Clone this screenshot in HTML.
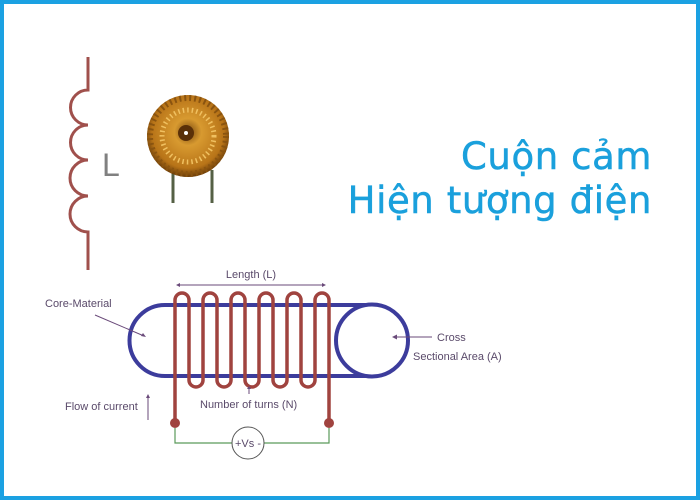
<!DOCTYPE html>
<html><head><meta charset="utf-8"><style>
html,body{margin:0;padding:0;background:#fff;}
.f{position:relative;width:700px;height:500px;box-sizing:border-box;border:4px solid #1ba1e2;overflow:hidden;}
svg{position:absolute;left:-4px;top:-4px;}
.t{position:absolute;right:44px;color:#1aa0dc;font-family:"DejaVu Sans","Liberation Sans",sans-serif;font-size:37px;text-align:right;letter-spacing:0.6px;-webkit-text-stroke:0.5px #1aa0dc;line-height:44px;}
</style></head><body><div class="f">
<svg width="700" height="500" viewBox="0 0 700 500" font-family="Liberation Sans, sans-serif">
<defs>
<radialGradient id="g" cx="50%" cy="45%" r="55%"><stop offset="0" stop-color="#7a4a10"/><stop offset="0.3" stop-color="#d89a30"/><stop offset="0.8" stop-color="#b87418"/><stop offset="1" stop-color="#6a3c08"/></radialGradient>
</defs>
<path d="M88 57 V90 A17.5 17.5 0 0 0 88 125 A17.5 17.5 0 0 0 88 160 A17.5 17.5 0 0 0 88 196 A17.5 17.5 0 0 0 88 232 V270" fill="none" stroke="#a0504c" stroke-width="3"/>
<text x="102" y="176" font-size="32" fill="#808080">L</text>
<line x1="173" y1="170" x2="173" y2="203" stroke="#556045" stroke-width="3"/>
<line x1="212" y1="170" x2="212" y2="203" stroke="#556045" stroke-width="3"/>
<circle cx="188" cy="136" r="41" fill="url(#g)"/>
<circle cx="188" cy="136" r="38" fill="none" stroke="#8a5410" stroke-width="6" stroke-dasharray="2 3"/>
<circle cx="188" cy="136" r="26" fill="none" stroke="#f0c060" stroke-width="5" stroke-dasharray="1.5 3"/>
<circle cx="186" cy="133" r="8" fill="#5a3008"/>
<circle cx="186" cy="133" r="2" fill="#fff"/>
<path d="M372 305 H165 A35.5 35.5 0 0 0 165 376 H372" fill="none" stroke="#3c3c9c" stroke-width="4"/>
<circle cx="372" cy="340.5" r="36" fill="#fff" stroke="#3c3c9c" stroke-width="4"/>
<path d="M175 422 V300 A7 7 0 0 1 189 300 V380 A7 7 0 0 0 203 380 V300 A7 7 0 0 1 217 300 V380 A7 7 0 0 0 231 380 V300 A7 7 0 0 1 245 300 V380 A7 7 0 0 0 259 380 V300 A7 7 0 0 1 273 300 V380 A7 7 0 0 0 287 380 V300 A7 7 0 0 1 301 300 V380 A7 7 0 0 0 315 380 V300 A7 7 0 0 1 329 300 V422" fill="none" stroke="#a0433f" stroke-width="3.5"/>
<circle cx="175" cy="423" r="5" fill="#a0433f"/>
<circle cx="329" cy="423" r="5" fill="#a0433f"/>
<path d="M175 428 V443 H232 M264 443 H329 V428" fill="none" stroke="#5a9a5a" stroke-width="1.2"/>
<circle cx="248" cy="443" r="16" fill="#fff" stroke="#555" stroke-width="1"/>
<text x="248" y="447" font-size="11" fill="#5a4a6a" text-anchor="middle">+Vs -</text>
<g fill="#5a4a6a" font-size="11">
<text x="251" y="278" text-anchor="middle">Length (L)</text>
<text x="45" y="307">Core-Material</text>
<text x="437" y="341">Cross</text>
<text x="413" y="360">Sectional Area (A)</text>
<text x="65" y="410">Flow of current</text>
<text x="200" y="408">Number of turns (N)</text>
</g>
<g stroke="#6a4a7a" stroke-width="1" fill="#6a4a7a">
<line x1="178" y1="285" x2="324" y2="285"/>
<path d="M176 285 l4 -2 v4z M326 285 l-4 -2 v4z" stroke="none"/>
<line x1="95" y1="315" x2="144" y2="336"/>
<path d="M146 337 l-5 -1 l2 -3z" stroke="none"/>
<line x1="395" y1="337" x2="432" y2="337"/>
<path d="M392 337 l5 -2.5 v5z" stroke="none"/>
<line x1="148" y1="420" x2="148" y2="396"/>
<path d="M148 394 l-2 4 h4z" stroke="none"/>
<line x1="249" y1="394" x2="249" y2="388"/>
<path d="M249 386 l-2 3 h4z" stroke="none"/>
</g>
</svg>
<div class="t" style="top:131px;">Cuộn cảm</div>
<div class="t" style="top:175px;">Hiện tượng điện</div>
</div></body></html>
